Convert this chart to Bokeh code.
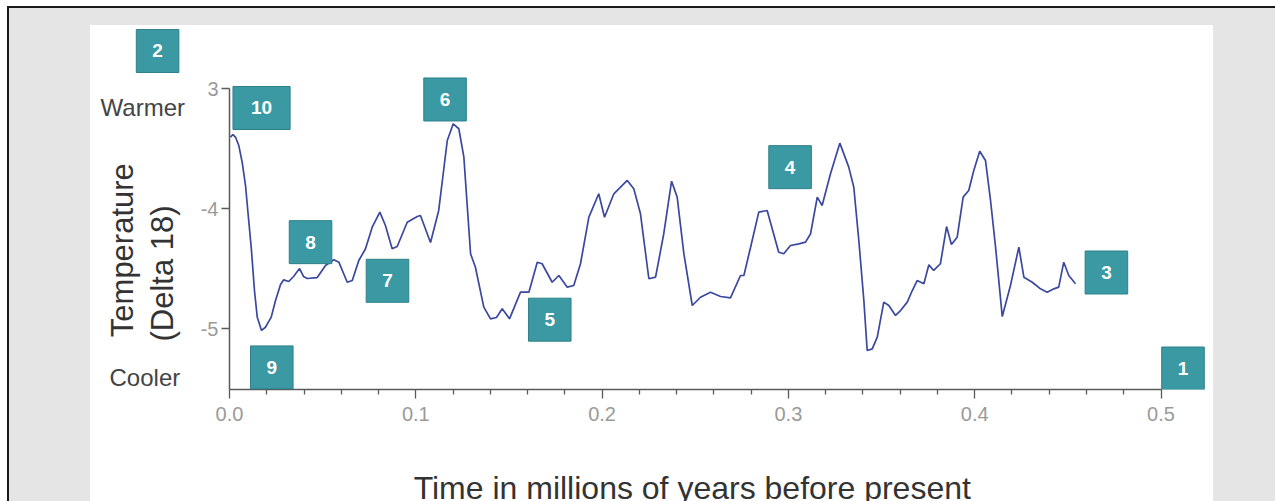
import math
from bokeh.plotting import figure
from bokeh.models import Range1d, FixedTicker, Label
from bokeh.layouts import column, row
from bokeh.embed import file_html
from bokeh.resources import INLINE

# ---- data (time in Myr before present, delta-18 temperature proxy) ----
time_myr = [0.0005, 0.0018, 0.0032, 0.0050, 0.0068, 0.0086, 0.0104, 0.0118, 0.0134, 0.0149,
            0.0172, 0.0193, 0.0224, 0.0247, 0.0274, 0.0291, 0.0318, 0.0344, 0.0376, 0.0397,
            0.0417, 0.0471, 0.0515, 0.0560, 0.0587, 0.0632, 0.0659, 0.0694, 0.0730, 0.0766,
            0.0807, 0.0837, 0.0873, 0.0900, 0.0954, 0.1008, 0.1025, 0.1079, 0.1123, 0.1169,
            0.1201, 0.1231, 0.1258, 0.1294, 0.1320, 0.1365, 0.1401, 0.1433, 0.1464, 0.1503,
            0.1562, 0.1607, 0.1652, 0.1678, 0.1732, 0.1768, 0.1813, 0.1848, 0.1884, 0.1929,
            0.1982, 0.2013, 0.2063, 0.2135, 0.2170, 0.2206, 0.2251, 0.2287, 0.2331, 0.2373,
            0.2403, 0.2439, 0.2484, 0.2528, 0.2582, 0.2636, 0.2689, 0.2743, 0.2761, 0.2797,
            0.2841, 0.2886, 0.2948, 0.2975, 0.3011, 0.3056, 0.3092, 0.3119, 0.3155, 0.3181,
            0.3226, 0.3276, 0.3324, 0.3351, 0.3378, 0.3405, 0.3423, 0.3450, 0.3477, 0.3512,
            0.3539, 0.3575, 0.3602, 0.3638, 0.3665, 0.3691, 0.3727, 0.3754, 0.3780, 0.3816,
            0.3849, 0.3875, 0.3906, 0.3938, 0.3968, 0.3995, 0.4027, 0.4058, 0.4085, 0.4112,
            0.4148, 0.4192, 0.4237, 0.4264, 0.4309, 0.4353, 0.4389, 0.4425, 0.4451, 0.4478,
            0.4505, 0.4541]
delta18 = [-3.403, -3.381, -3.402, -3.473, -3.612, -3.806, -4.112, -4.348, -4.681, -4.903,
           -5.014, -4.987, -4.903, -4.764, -4.631, -4.592, -4.606, -4.564, -4.498, -4.564,
           -4.581, -4.573, -4.473, -4.425, -4.445, -4.612, -4.598, -4.431, -4.333, -4.153,
           -4.028, -4.139, -4.333, -4.314, -4.112, -4.064, -4.056, -4.281, -4.014, -3.431,
           -3.292, -3.333, -3.570, -4.375, -4.487, -4.820, -4.917, -4.906, -4.833, -4.917,
           -4.695, -4.695, -4.445, -4.458, -4.612, -4.556, -4.653, -4.639, -4.458, -4.070,
           -3.875, -4.070, -3.875, -3.764, -3.833, -4.042, -4.583, -4.570, -4.208, -3.770,
           -3.903, -4.375, -4.806, -4.737, -4.695, -4.731, -4.742, -4.556, -4.556, -4.320,
           -4.028, -4.014, -4.362, -4.375, -4.306, -4.292, -4.278, -4.208, -3.903, -3.973,
           -3.708, -3.453, -3.653, -3.820, -4.264, -4.764, -5.181, -5.167, -5.070, -4.778,
           -4.806, -4.889, -4.848, -4.778, -4.681, -4.598, -4.625, -4.467, -4.514, -4.458,
           -4.148, -4.298, -4.237, -3.903, -3.848, -3.681, -3.520, -3.598, -3.931, -4.320,
           -4.898, -4.639, -4.320, -4.570, -4.612, -4.667, -4.695, -4.667, -4.653, -4.445,
           -4.556, -4.625]

x_ticks = [0.0, 0.1, 0.2, 0.3, 0.4, 0.5]
x_tick_labels = ["0.0", "0.1", "0.2", "0.3", "0.4", "0.5"]
x_minor_ticks = [0.02, 0.04, 0.06, 0.08, 0.12, 0.14, 0.16, 0.18, 0.22, 0.24, 0.26, 0.28,
                 0.32, 0.34, 0.36, 0.38, 0.42, 0.44, 0.46, 0.48]
y_ticks = [-3, -4, -5]
y_tick_labels = ["3", "-4", "-5"]

# numbered markers drawn on the chart: label, time, value
marker_labels = ["1", "3", "4", "5", "6", "7", "8", "9", "10"]
marker_x = [0.5118, 0.4707, 0.3009, 0.1719, 0.1157, 0.0848, 0.0435, 0.0227, 0.0172]
marker_y = [-5.331, -4.531, -3.653, -4.924, -3.089, -4.600, -4.278, -5.322, -3.160]
# marker left of the value axis
side_marker_label = "2"
side_marker_x = -0.0386
side_marker_y = -2.685

x_title = "Time in millions of years before present"
y_title_1 = "Temperature"
y_title_2 = "(Delta 18)"
warm_text = "Warmer"
cool_text = "Cooler"

FONT = "Liberation Sans"
TEAL = "#3a99a3"
TEAL_EDGE = "#2e8088"
X_LO, X_AX, X_HI = -0.07461, -0.02040, 0.52818   # panel left, axis-panel left, panel right
Y_TOP, Y_FRAME_BOT, Y_MID, Y_BOT = -2.4725, -5.506, -5.939, -6.439


def marker(lab, mx, my):
    pad = (18, 15) if len(lab) > 1 else (16, 15)
    return Label(x=mx, y=my, text=lab, text_align="center", text_baseline="middle",
                 text_font=FONT, text_font_size="19px", text_font_style="bold",
                 text_color="white", background_fill_color=TEAL,
                 border_line_color=TEAL_EDGE, border_line_width=1, padding=pad)


def blank(width, height, xr, yr, bottom_border=0):
    f = figure(width=width, height=height, output_backend="svg", toolbar_location=None,
               x_range=Range1d(*xr), y_range=Range1d(*yr),
               x_axis_type=None, y_axis_type=None,
               min_border_left=0, min_border_right=0, min_border_top=0,
               min_border_bottom=bottom_border,
               background_fill_color="white", border_fill_color="white",
               outline_line_color=None)
    f.grid.visible = False
    return f


# ---- main chart ----
p = figure(width=1022, height=416, output_backend="svg", toolbar_location=None,
           x_range=Range1d(0, X_HI), y_range=Range1d(Y_FRAME_BOT, Y_TOP),
           min_border_left=38, min_border_right=0, min_border_top=0, min_border_bottom=52,
           background_fill_color="white", border_fill_color="white",
           outline_line_color=None)
p.grid.visible = False

xa = p.xaxis[0]
xa.ticker = FixedTicker(ticks=x_ticks, minor_ticks=x_minor_ticks)
xa.major_label_overrides = dict(zip(x_ticks, x_tick_labels))
xa.bounds = (0, 0.5)
ya = p.yaxis[0]
ya.ticker = FixedTicker(ticks=y_ticks, minor_ticks=[])
ya.major_label_overrides = dict(zip(y_ticks, y_tick_labels))
ya.bounds = (Y_FRAME_BOT, -3)

for ax in (xa, ya):
    ax.axis_line_color = "#5a5a5a"
    ax.axis_line_width = 1.5
    ax.major_tick_line_color = "#5a5a5a"
    ax.major_tick_line_width = 1.3
    ax.minor_tick_line_color = "#5a5a5a"
    ax.minor_tick_line_width = 1.3
    ax.major_tick_in = 0
    ax.minor_tick_in = 0
    ax.major_label_text_font = FONT
    ax.major_label_text_font_size = "20px"
    ax.major_label_text_color = "#9a9a9a"
xa.major_tick_out = 9
xa.minor_tick_out = 5
xa.major_label_standoff = 8
ya.major_tick_out = 8
ya.major_label_standoff = 3

p.line(time_myr, delta18, line_color="#3a48a0", line_width=1.7)
for lab, mx, my in zip(marker_labels, marker_x, marker_y):
    p.add_layout(marker(lab, mx, my))

# ---- left side panel: axis title, warmer / cooler notes, marker 2 ----
left = blank(101, 416, (X_LO, X_AX), (Y_FRAME_BOT, Y_TOP), bottom_border=52)
left.add_layout(Label(x=-0.0576, y=-5.07, text=y_title_1, angle=math.pi / 2,
                      text_align="left", text_baseline="alphabetic", text_font=FONT,
                      text_font_size="31px", text_color="#333333"))
left.add_layout(Label(x=-0.0360, y=-5.106, text=y_title_2, angle=math.pi / 2,
                      text_align="left", text_baseline="alphabetic", text_font=FONT,
                      text_font_size="31px", text_color="#333333"))
left.add_layout(Label(x=-0.0692, y=-3.153, text=warm_text, text_align="left",
                      text_baseline="middle", text_font=FONT, text_font_size="24px",
                      text_color="#444444"))
left.add_layout(Label(x=-0.0644, y=-5.403, text=cool_text, text_align="left",
                      text_baseline="middle", text_font=FONT, text_font_size="24px",
                      text_color="#444444"))
left.add_layout(marker(side_marker_label, side_marker_x, side_marker_y))

# ---- bottom panel: time axis title ----
bottom = blank(1123, 60, (X_LO, X_HI), (Y_BOT, Y_MID))
bottom.add_layout(Label(x=0.2484, y=-6.325, text=x_title, text_align="center",
                        text_baseline="middle", text_font=FONT, text_font_size="32px",
                        text_color="#333333"))

content = column(row(left, p), bottom, margin=(19, 0, 0, 83),
                 styles={"background-color": "white"})
inner = column(content, width=1268, height=495, sizing_mode="fixed", margin=(6, 0, 0, 7),
               styles={"background-color": "#e5e5e5",
                       "box-shadow": "inset 2px 2px 0 0 #1a1a1a",
                       "overflow": "hidden"})
root = column(inner, width=1275, height=501, sizing_mode="fixed")

open("out.html", "w").write(file_html(root, INLINE))
